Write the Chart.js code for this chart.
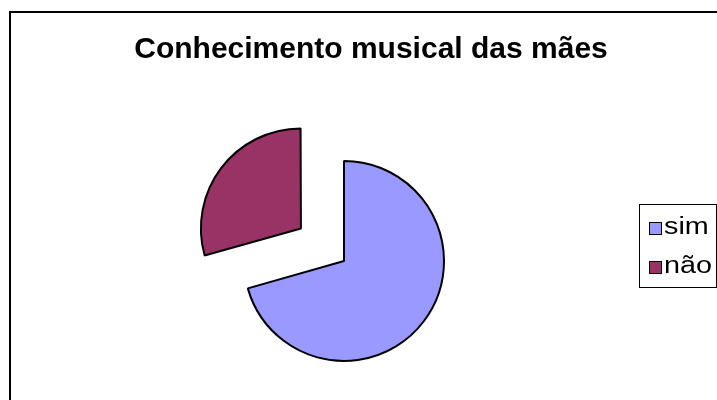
<!DOCTYPE html>
<html>
<head>
<meta charset="utf-8">
<script src="https://cdn.jsdelivr.net/npm/chart.js@4.4.0/dist/chart.umd.min.js"></script>
<style>
  html, body { margin: 0; padding: 0; background: #fff; overflow: hidden; }
  #wrap { width: 717px; height: 400px; }
</style>
</head>
<body>
<div id="wrap"><canvas id="pieChart" width="717" height="400"></canvas></div>
<script>
const chartTitle = "Conhecimento musical das mães";
const categories = ["sim", "não"];
const counts = [12, 5];
const sliceColors = ["#9999ff", "#993366"];
// Chart.js moves an arc by offset / 4, so 216 pushes "não" out ~54px
const sliceOffsets = [0, 216];

// Chart.js also grows small offset slices a bit (offset * (1 - sin(circ))),
// take that back so both slices keep the same radius
const keepRadius = {
  id: "keepRadius",
  beforeDatasetsDraw(chart) {
    const meta = chart.getDatasetMeta(0);
    const base = meta.controller.outerRadius;
    meta.data.forEach((arc) => {
      const off = (arc.options.offset || 0) / 4;
      const fix = 1 - Math.sin(Math.min(Math.PI, arc.circumference || 0));
      arc.outerRadius = base - off * fix;
    });
  },
};

// Frame, title and the boxed legend, drawn the way the old spreadsheet chart looked
const spreadsheetLook = {
  id: "spreadsheetLook",
  beforeDraw(chart) {
    const c = chart.ctx;
    c.save();
    c.fillStyle = "#fff";
    c.fillRect(0, 0, chart.width, chart.height);
    c.strokeStyle = "#000";
    c.lineWidth = 2;
    c.strokeRect(10, 12, 900, 600);
    c.restore();
  },
  afterDraw(chart) {
    const c = chart.ctx;
    const ds = chart.data.datasets[0];
    c.save();

    // title
    c.fillStyle = "#000";
    c.font = "bold 30px 'Liberation Sans', Arial, sans-serif";
    c.textAlign = "center";
    c.textBaseline = "alphabetic";
    c.fillText(chartTitle, 371, 58);

    // legend box
    c.lineWidth = 1;
    c.strokeStyle = "#000";
    c.strokeRect(639.5, 204.5, 77, 83);

    c.font = "23px 'Liberation Sans', Arial, sans-serif";
    c.textAlign = "left";
    chart.data.labels.forEach((label, i) => {
      const y = 222 + i * 39;
      c.fillStyle = ds.backgroundColor[i];
      c.fillRect(649.5, y + 0.5, 12, 12);
      c.strokeRect(649.5, y + 0.5, 12, 12);

      // text in the original is stretched sideways
      c.save();
      c.translate(664, y + 12);
      c.scale(1.25, 1);
      c.fillStyle = "#000";
      c.fillText(label, 0, 0);
      c.restore();
    });

    c.restore();
  }
};

new Chart(document.getElementById("pieChart"), {
  type: "pie",
  data: {
    labels: categories,
    datasets: [
      {
        data: counts,
        backgroundColor: sliceColors,
        borderColor: "#000",
        borderWidth: 2,
        offset: sliceOffsets,
        hoverOffset: 0,
      },
    ],
  },
  options: {
    responsive: false,
    animation: false,
    events: [],
    radius: 100,
    layout: {
      padding: { left: 216, right: 245, top: 133, bottom: 11 },
    },
    plugins: {
      legend: { display: false },
      title: { display: false },
      tooltip: { enabled: false },
    },
  },
  plugins: [keepRadius, spreadsheetLook],
});
</script>
</body>
</html>
